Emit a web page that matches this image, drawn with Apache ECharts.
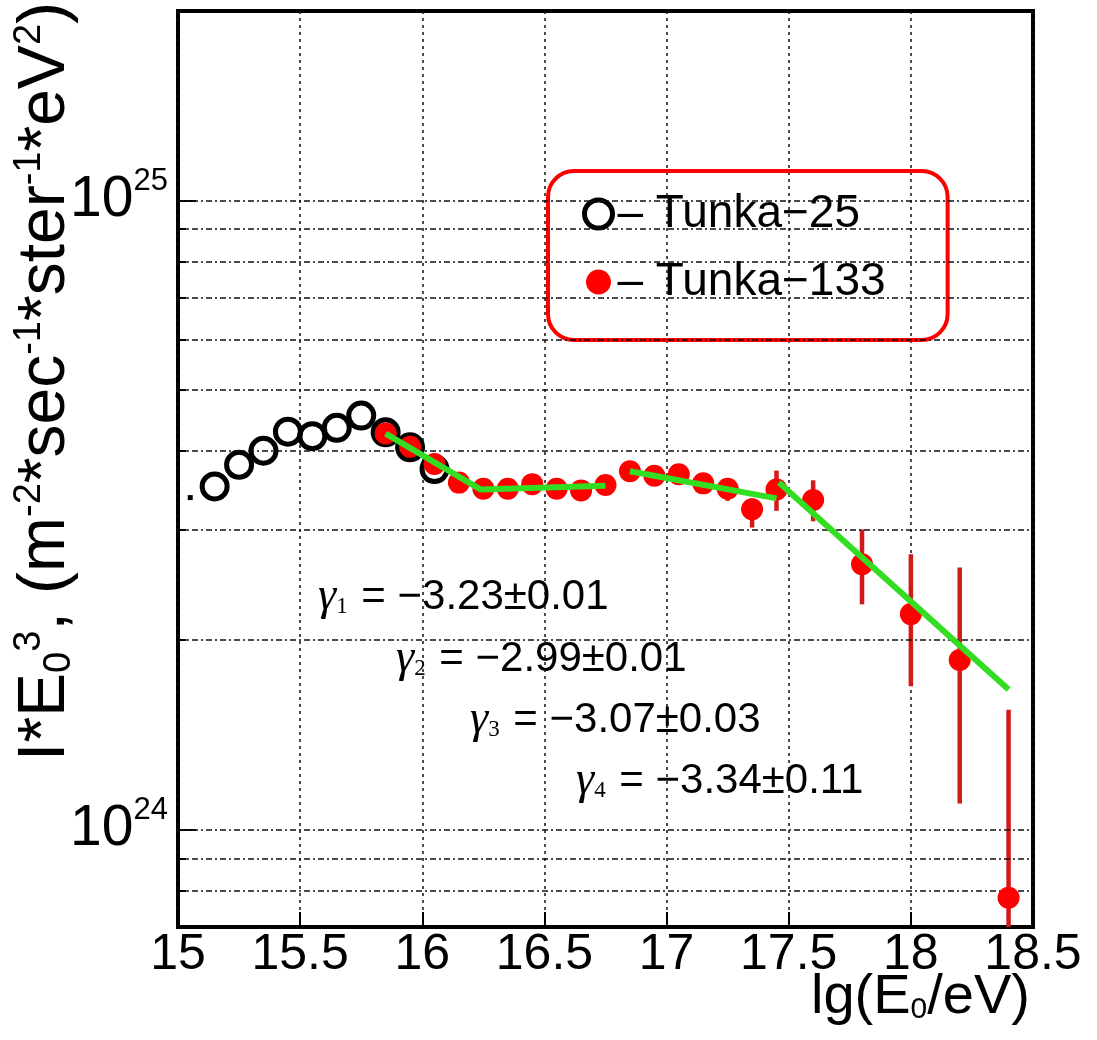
<!DOCTYPE html>
<html>
<head>
<meta charset="utf-8">
<script src="https://cdn.jsdelivr.net/npm/echarts@6.0.0/dist/echarts.min.js"></script>
<style>
  html, body { margin: 0; padding: 0; background: #fff; }
  #chart { width: 1097px; height: 1040px; }
</style>
</head>
<body>
<div id="chart"></div>
<script>
const FONT = 'Liberation Sans, Arial, sans-serif';
const SERIF = 'Liberation Serif, Times New Roman, serif';

// Tunka-25 (open circles)
const t25X = [15.15, 15.25, 15.35, 15.45, 15.55, 15.65, 15.75, 15.85, 15.95, 16.05];
const t25Y = [3.51e24, 3.80e24, 4.00e24, 4.29e24, 4.22e24, 4.35e24, 4.55e24, 4.28e24, 4.05e24, 3.74e24];

// Tunka-133 (red dots)
const t133X = [15.85, 15.95, 16.05, 16.15, 16.25, 16.35, 16.45, 16.55, 16.65, 16.75, 16.85,
               16.95, 17.05, 17.15, 17.25, 17.35, 17.45, 17.6, 17.8, 18.0, 18.2, 18.4];
const t133Y = [4.26e24, 4.06e24, 3.81e24, 3.56e24, 3.48e24, 3.48e24, 3.54e24, 3.48e24, 3.46e24, 3.53e24, 3.71e24,
               3.65e24, 3.67e24, 3.55e24, 3.48e24, 3.23e24, 3.47e24, 3.34e24, 2.64e24, 2.20e24, 1.86e24, 7.79e23];

// error bars that stick out of the markers
const errX  = [17.25, 17.35, 17.45, 17.6, 17.8, 18.0, 18.2, 18.4];
const errLo = [3.33e24, 3.02e24, 3.21e24, 3.09e24, 2.28e24, 1.69e24, 1.10e24, 5.0e23];
const errHi = [3.62e24, 3.36e24, 3.72e24, 3.59e24, 3.00e24, 2.74e24, 2.61e24, 1.55e24];

// power-law fits (green)
const fitSegments = [
  [[15.85, 4.26e24], [16.24, 3.47e24], [16.75, 3.52e24]],
  [[16.85, 3.71e24], [17.45, 3.36e24]],
  [[17.46, 3.56e24], [18.4, 1.67e24]]
];

// stray marker near the left edge
const strayPoint = [[15.05, 3.37e24]];

// horizontal grid (log decades + 2..9 subdivisions)
const yGrid = [8e23, 9e23, 1e24, 2e24, 3e24, 4e24, 5e24, 6e24, 7e24, 8e24, 9e24, 1e25];
const yMinorTicks = [8e23, 9e23, 2e24, 3e24, 4e24, 5e24, 6e24, 7e24, 8e24, 9e24];

const gammaLabels = [
  { idx: '1', text: ' = \u22123.23\u00b10.01', x: 318, y: 597 },
  { idx: '2', text: ' = \u22122.99\u00b10.01', x: 396, y: 659 },
  { idx: '3', text: ' = \u22123.07\u00b10.03', x: 470, y: 720 },
  { idx: '4', text: ' = \u22123.34\u00b10.11', x: 576, y: 781 }
];

const chart = echarts.init(document.getElementById('chart'));

const gammaRich = {
  g: { fontFamily: SERIF, fontStyle: 'italic', fontSize: 46, fill: '#000' },
  n: { fontFamily: SERIF, fontSize: 23, padding: [20, 2, 0, 0], fill: '#000' },
  t: { fontFamily: FONT, fontSize: 42, fill: '#000' }
};

chart.setOption({
  animation: false,
  backgroundColor: '#fff',
  grid: {
    left: 178, right: 64, top: 11, bottom: 113,
    show: true, borderColor: '#000', borderWidth: 4,
    outerBoundsMode: 'none'
  },
  xAxis: {
    type: 'value',
    min: 15, max: 18.5, interval: 0.5,
    axisLine: { show: false },
    axisTick: { inside: true, length: 15, lineStyle: { color: '#000', width: 2 } },
    axisLabel: { color: '#000', fontFamily: FONT, fontSize: 50, margin: 3 },
    splitLine: { lineStyle: { color: '#111', width: 1.5, type: [3, 4] } }
  },
  yAxis: {
    type: 'log', logBase: 10,
    min: 7e23, max: 2e25,
    axisLine: { show: false },
    axisTick: { inside: true, length: 18, lineStyle: { color: '#000', width: 2 } },
    splitLine: { show: false },
    axisLabel: {
      margin: 10,
      formatter: function (v) {
        const e = Math.log10(v);
        if (Math.abs(e - Math.round(e)) > 1e-6) return '';
        return '{b|10}{s|' + Math.round(e) + '}';
      },
      rich: {
        b: { fontFamily: FONT, fontSize: 57, color: '#000' },
        s: { fontFamily: FONT, fontSize: 31, color: '#000', padding: [0, 0, 38, 0] }
      }
    }
  },
  legend: {
    data: [
      { name: 'Tunka-25', itemStyle: { borderWidth: 5 } },
      { name: 'Tunka-133', itemStyle: { borderColor: '#fff', borderWidth: 3 } }
    ],
    orient: 'vertical',
    left: 548, top: 171,
    padding: [20, 62, 35, 34],
    itemGap: 22,
    itemWidth: 28, itemHeight: 28,
    borderColor: '#ff0000', borderWidth: 4, borderRadius: 26,
    formatter: function (name) { return '\u2013 ' + name.replace('-', '\u2212'); },
    textStyle: { color: '#000', fontFamily: FONT, fontSize: 46 }
  },
  graphic: [
    {
      type: 'text', x: 46, y: 2, rotation: Math.PI / 2,
      style: {
        text: 'I*E{sub|0}{sup|3}, (m{sup|-2}*sec{sup|-1}*ster{sup|-1}*eV{sup|2})',
        fontFamily: FONT, fontSize: 66, fill: '#000',
        align: 'right', verticalAlign: 'middle', textAlign: 'right', textVerticalAlign: 'middle',
        rich: {
          sub: { fontFamily: FONT, fontSize: 38, fill: '#000', padding: [28, 0, 0, 0] },
          sup: { fontFamily: FONT, fontSize: 38, fill: '#000', padding: [0, 0, 32, 0] }
        }
      }
    },
    {
      type: 'text', x: 1030, y: 998,
      style: {
        text: 'lg(E{sub|0}/eV)',
        fontFamily: FONT, fontSize: 56, fill: '#000',
        align: 'right', verticalAlign: 'middle', textAlign: 'right', textVerticalAlign: 'middle',
        rich: {
          sub: { fontFamily: FONT, fontSize: 30, fill: '#000', padding: [24, 0, 0, 0] }
        }
      }
    }
  ].concat(gammaLabels.map(function (g) {
    return {
      type: 'text', x: g.x, y: g.y,
      style: {
        text: '{g|\u03b3}{n|' + g.idx + '}{t|' + g.text + '}',
        align: 'left', verticalAlign: 'middle', textAlign: 'left', textVerticalAlign: 'middle',
        rich: gammaRich
      }
    };
  })),
  series: [
    {
      // dotted horizontal grid
      type: 'line', data: [], z: 1, silent: true,
      markLine: {
        silent: true, symbol: 'none', animation: false,
        label: { show: false },
        lineStyle: { color: '#111', width: 1.5, type: [6, 3, 2, 3] },
        data: yGrid.map(function (v) { return { yAxis: v }; })
      }
    },
    {
      // minor ticks on the left axis
      type: 'line', data: [], z: 2, silent: true,
      markLine: {
        silent: true, symbol: 'none', animation: false,
        label: { show: false },
        lineStyle: { color: '#000', width: 2, type: 'solid' },
        data: yMinorTicks.map(function (v) { return [{ coord: [15, v] }, { coord: [15.035, v] }]; })
      }
    },
    {
      name: 'Tunka-25',
      type: 'scatter',
      data: t25X.map(function (x, i) { return [x, t25Y[i]]; }),
      symbol: 'circle', symbolSize: 25,
      itemStyle: { color: 'rgba(255,255,255,0)', borderColor: '#000', borderWidth: 5, opacity: 1 },
      z: 3
    },
    {
      type: 'scatter',
      data: strayPoint,
      symbol: 'rect', symbolSize: 5,
      itemStyle: { color: '#000', opacity: 1 },
      z: 3
    },
    {
      type: 'custom',
      data: errX.map(function (x, i) { return [x, errLo[i], errHi[i]]; }),
      clip: true,
      z: 4,
      renderItem: function (params, api) {
        const top = api.coord([api.value(0), api.value(2)]);
        const bot = api.coord([api.value(0), api.value(1)]);
        return {
          type: 'line',
          shape: { x1: top[0], y1: top[1], x2: bot[0], y2: bot[1] },
          style: { stroke: '#d11a1a', lineWidth: 4.5 }
        };
      }
    },
    {
      name: 'Tunka-133',
      type: 'scatter',
      data: t133X.map(function (x, i) { return [x, t133Y[i]]; }),
      symbol: 'circle', symbolSize: 22,
      itemStyle: { color: '#ff0000', opacity: 1 },
      z: 5
    }
  ].concat(fitSegments.map(function (seg) {
    return {
      type: 'line',
      data: seg,
      symbol: 'none',
      lineStyle: { color: '#33dd22', width: 6 },
      z: 6
    };
  }))
});
</script>
</body>
</html>
